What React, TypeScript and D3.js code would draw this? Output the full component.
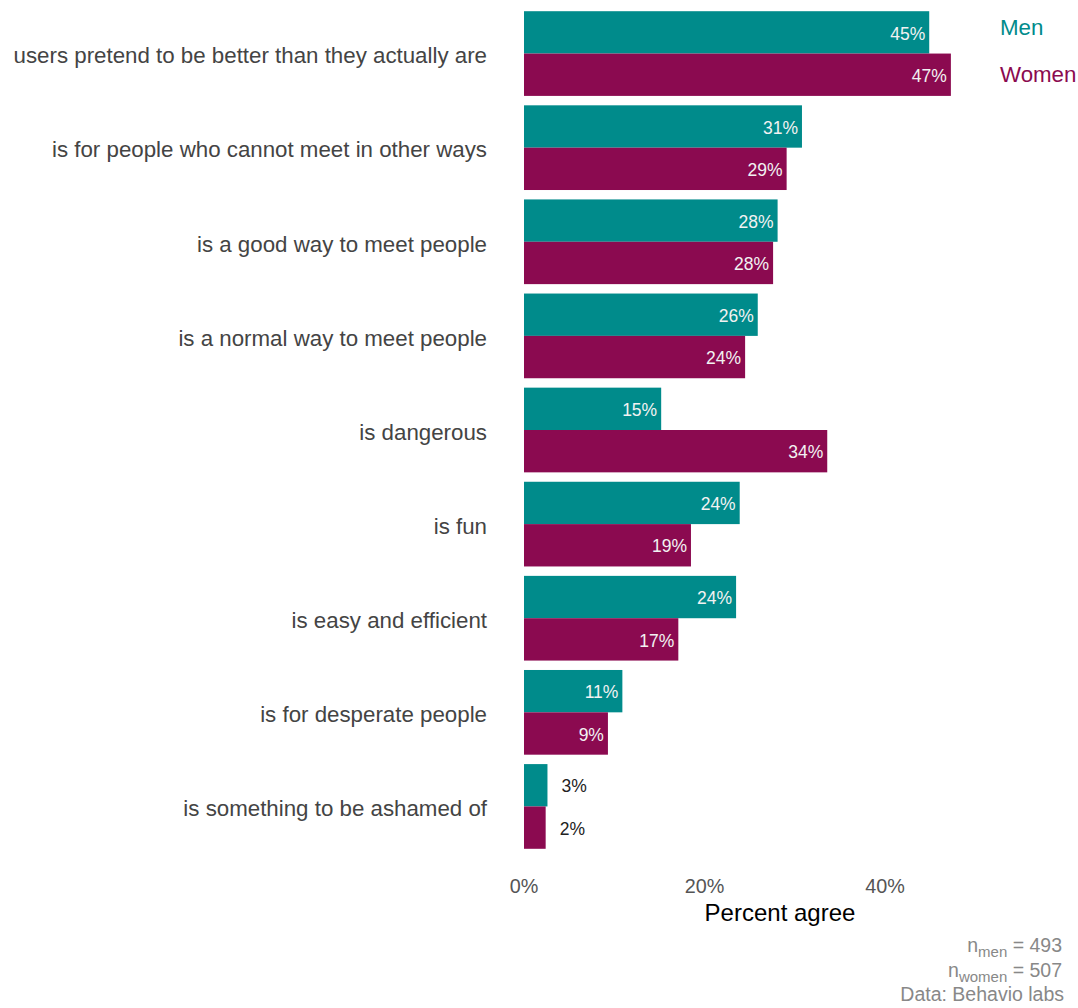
import React from "react";
import * as d3 from "d3";

const categories = [
  "users pretend to be better than they actually are",
  "is for people who cannot meet in other ways",
  "is a good way to meet people",
  "is a normal way to meet people",
  "is dangerous",
  "is fun",
  "is easy and efficient",
  "is for desperate people",
  "is something to be ashamed of",
];
const menValues = [44.9, 30.8, 28.1, 25.9, 15.2, 23.9, 23.5, 10.9, 2.6];
const womenValues = [47.3, 29.1, 27.6, 24.5, 33.6, 18.5, 17.1, 9.3, 2.4];
const menLabels = ["45%", "31%", "28%", "26%", "15%", "24%", "24%", "11%", "3%"];
const womenLabels = ["47%", "29%", "28%", "24%", "34%", "19%", "17%", "9%", "2%"];
const xTicks = [0, 20, 40];
const seriesNames = ["Men", "Women"];
const colors = ["#008B8B", "#8B0A50"];

const W = 1078;
const H = 1008;
const FONT = "'Liberation Sans', Arial, sans-serif";

export default function App() {
  const x = d3.scaleLinear().domain([0, 40]).range([524, 885]);
  const y = d3.scaleBand<string>().domain(categories).range([6.5, 853.5]).paddingInner(0.1).paddingOuter(0.05);
  const sub = d3.scaleBand<string>().domain(seriesNames).range([0, y.bandwidth()]);
  const series = [menValues, womenValues];
  const labels = [menLabels, womenLabels];

  return (
    <svg width={W} height={H} style={{ position: "absolute", left: 0, top: 0, background: "#fff" }} fontFamily={FONT}>
      {categories.map((c, i) => (
        <g key={c}>
          {seriesNames.map((s, j) => {
            const v = series[j][i];
            const y0 = (y(c) as number) + (sub(s) as number);
            const bw = sub.bandwidth();
            const inside = v > 5;
            return (
              <g key={s}>
                <rect x={x(0)} y={y0} width={x(v) - x(0)} height={bw} fill={colors[j]} />
                <text
                  x={inside ? x(v) - 4 : x(v) + 14}
                  y={y0 + bw / 2 + 1}
                  dy="0.35em"
                  textAnchor={inside ? "end" : "start"}
                  fontSize={17.5}
                  fill={inside ? "#f2f2f2" : "#222"}
                >
                  {labels[j][i]}
                </text>
              </g>
            );
          })}
          <text
            x={487}
            y={(y(c) as number) + y.bandwidth() / 2 + 2}
            dy="0.35em"
            textAnchor="end"
            fontSize={22.3}
            fill="#444"
          >
            {c}
          </text>
        </g>
      ))}
      {xTicks.map((t) => (
        <text key={t} x={x(t)} y={886} dy="0.35em" textAnchor="middle" fontSize={19.8} fill="#555">
          {t}%
        </text>
      ))}
      <text x={780} y={913} dy="0.35em" textAnchor="middle" fontSize={24} fill="#000">
        Percent agree
      </text>
      {seriesNames.map((s, j) => (
        <text key={s} x={1000} y={27 + j * 47} dy="0.35em" fontSize={22.3} fill={colors[j]}>
          {s}
        </text>
      ))}
      <g fill="#888" fontSize={19.5} textAnchor="end">
        <text x={1062} y={952}>
          <tspan>n</tspan>
          <tspan fontSize={15} dy={5}>men</tspan>
          <tspan dy={-5}> = 493</tspan>
        </text>
        <text x={1062} y={977}>
          <tspan>n</tspan>
          <tspan fontSize={15} dy={5}>women</tspan>
          <tspan dy={-5}> = 507</tspan>
        </text>
        <text x={1064} y={1001}>Data: Behavio labs</text>
      </g>
    </svg>
  );
}
